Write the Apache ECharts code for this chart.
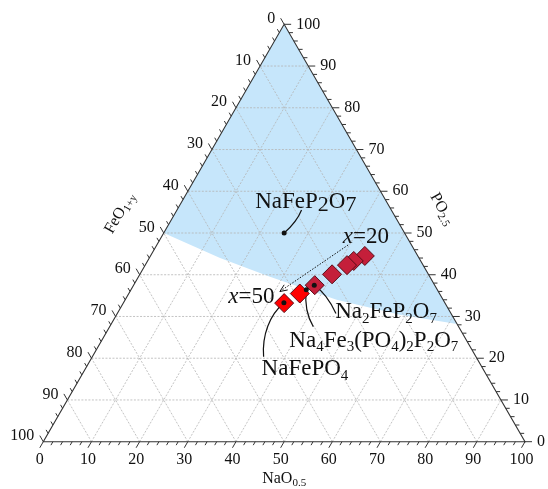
<!DOCTYPE html>
<html><head><meta charset="utf-8">
<script src="https://cdn.jsdelivr.net/npm/echarts@6/dist/echarts.min.js"></script>
<style>html,body{margin:0;padding:0;background:#fff}#c{width:548px;height:489px}</style>
</head><body><div id="c"></div>
<script>
// ---- data (ternary %, NaO0.5 / PO2.5 ; FeO1+y = 100 - Na - P) ----
const tickValues = [0, 10, 20, 30, 40, 50, 60, 70, 80, 90, 100];
const tickLabels = ['0', '10', '20', '30', '40', '50', '60', '70', '80', '90', '100'];
const gridValues = [10, 20, 30, 40, 50, 60, 70, 80, 90];
const sampleNa = [44.5, 42.8, 41.9, 39.9, 37.6, 35.5, 33.4];
const sampleP  = [44.5, 43.3, 42.3, 40.1, 37.5, 35.5, 33.2];
const sampleTone = ['dark', 'dark', 'dark', 'dark', 'dark', 'bright', 'bright'];
const phaseNames = ['NaFeP2O7', 'Na2FeP2O7', 'Na4Fe3(PO4)2P2O7', 'NaFePO4'];
const phaseNa = [25.0, 37.5, 36.4, 33.3];
const phaseP  = [50.0, 37.5, 36.4, 33.3];
const regionNa = [0, 14.7, 27.3, 43.9, 58.8, 71.8, 0];
const regionP  = [50, 44.0, 39.5, 34.0, 30.4, 28.2, 100];
const seriesEnds = ['x=20', 'x=50'];

const SQ = Math.sqrt(3) / 2;
function tern(na, p) { return [na + p / 2, p * SQ]; }
const FONT = '"Liberation Serif","Times New Roman",serif';

const chart = echarts.init(document.getElementById('c'), null, {renderer: 'canvas'});

function seg(a, b, style) {
  return {type: 'line', shape: {x1: a[0], y1: a[1], x2: b[0], y2: b[1]}, style: style};
}
function txt(x, y, text, opts) {
  opts = opts || {};
  return {type: 'text', x: x, y: y, rotation: opts.rotation || 0,
    style: {text: text, x: 0, y: 0, align: opts.align || 'center', verticalAlign: 'middle',
      fill: '#111', fontSize: opts.fontSize || 16, fontFamily: FONT, rich: opts.rich}};
}
const richSmall = {
  m: {fontSize: 16, fontFamily: FONT, fill: '#111', lineHeight: 20},
  s: {fontSize: 11, fontFamily: FONT, fill: '#111', lineHeight: 11, verticalAlign: 'bottom'}
};
const richBig = {
  m: {fontSize: 23, fontFamily: FONT, fill: '#111', lineHeight: 28},
  s: {fontSize: 15, fontFamily: FONT, fill: '#111', lineHeight: 15, verticalAlign: 'bottom'},
  b: {fontSize: 22, fontFamily: FONT, fill: '#111', lineHeight: 24, verticalAlign: 'bottom'},
  i: {fontSize: 23, fontFamily: FONT, fill: '#111', lineHeight: 28, fontStyle: 'italic'}
};
const phaseRich = {
  'NaFeP2O7': '{m|NaFeP}{b|2}{m|O}{b|7}',
  'Na2FeP2O7': '{m|Na}{s|2}{m|FeP}{s|2}{m|O}{s|7}',
  'Na4Fe3(PO4)2P2O7': '{m|Na}{s|4}{m|Fe}{s|3}{m|(PO}{s|4}{m|)}{s|2}{m|P}{s|2}{m|O}{s|7}',
  'NaFePO4': '{m|NaFePO}{s|4}'
};
// leader-line + label placement, in pixel offsets from the phase point
const phaseLayout = [
  {end: [17.4, -23], c1: [12.7, -11.1], text: [21.7, -31], align: 'center'},
  {end: [21.7, 28.3], c1: [13, 9], text: [21, 27], align: 'left'},
  {end: [7, 37], c1: [-2.5, 21], text: [-17, 51], align: 'left'},
  {end: [-20.3, 54], c1: [-14, 12], c2: [-22, 32], text: [-22.3, 66.7], align: 'left'}
];

const option = {
  animation: false,
  grid: {left: 43.3, top: 24.3, width: 481.7, height: 417.4, containLabel: false},
  xAxis: {type: 'value', min: 0, max: 100, show: false},
  yAxis: {type: 'value', min: 0, max: 100 * SQ, show: false},
  series: [
    { // blue stability region
      type: 'custom', z: 1, silent: true, data: [[0, 0]],
      renderItem: function (params, api) {
        const pts = regionNa.map((na, i) => api.coord(tern(na, regionP[i])));
        return {type: 'polygon', shape: {points: pts}, style: {fill: '#c6e6fb', stroke: null}};
      }
    },
    { // grid lines
      type: 'custom', z: 2, silent: true, data: gridValues.map(v => [v, 0]),
      renderItem: function (params, api) {
        const v = api.value(0);
        const c = (na, p) => api.coord(tern(na, p));
        const st = {stroke: '#b4b4b4', lineWidth: 0.8, lineDash: [2, 1.5]};
        return {type: 'group', children: [
          seg(c(0, v), c(100 - v, v), st),
          seg(c(v, 0), c(v, 100 - v), st),
          seg(c(100 - v, 0), c(0, 100 - v), st)
        ]};
      }
    },
    { // frame, ticks, tick labels, axis titles
      type: 'custom', z: 3, silent: true, data: [[0, 0]],
      renderItem: function (params, api) {
        const c = (na, p) => api.coord(tern(na, p));
        const st = {stroke: '#333', lineWidth: 1};
        const A = c(0, 0), B = c(100, 0), T = c(0, 100);
        const ch = [{type: 'polygon', shape: {points: [A, B, T]}, style: {fill: null, stroke: '#333', lineWidth: 1.1}}];
        for (let v = 0; v <= 100; v += 2) {
          const len = v % 10 === 0 ? 7 : 4;
          let p = c(v, 0); ch.push(seg(p, [p[0] - 0.5 * len, p[1] + SQ * len], st));
          p = c(0, 100 - v); ch.push(seg(p, [p[0] - 0.5 * len, p[1] - SQ * len], st));
          p = c(100 - v, v); ch.push(seg(p, [p[0] + len, p[1]], st));
        }
        tickValues.forEach((v, i) => {
          let p = c(v, 0); ch.push(txt(p[0] - 3.5, p[1] + 18.5, tickLabels[i]));
          p = c(0, 100 - v); ch.push(txt(p[0] - 9, p[1] - 5.5, tickLabels[i], {align: 'right'}));
          p = c(100 - v, v); ch.push(txt(p[0] + 12, p[1], tickLabels[i], {align: 'left'}));
        });
        let p = c(50, 0);
        ch.push(txt(p[0], p[1] + 37, '{m|NaO}{s|0.5}', {rich: richSmall}));
        p = c(0, 50);
        ch.push(txt(p[0] - 44, p[1] - 20, '{m|FeO}{s|1+y}', {rich: richSmall, rotation: Math.PI / 3}));
        p = c(50, 50);
        ch.push(txt(p[0] + 37.5, p[1] - 24, '{m|PO}{s|2.5}', {rich: richSmall, rotation: -Math.PI / 3}));
        return {type: 'group', children: ch};
      }
    },
    { // leader lines, phase labels, x arrow
      type: 'custom', z: 4, silent: true, data: [[0, 0]],
      renderItem: function (params, api) {
        const ch = [];
        const line = {stroke: '#111', lineWidth: 1.2, fill: null};
        phaseNames.forEach((name, i) => {
          const d = api.coord(tern(phaseNa[i], phaseP[i]));
          const L = phaseLayout[i];
          const shape = {x1: d[0], y1: d[1], x2: d[0] + L.end[0], y2: d[1] + L.end[1],
            cpx1: d[0] + L.c1[0], cpy1: d[1] + L.c1[1]};
          if (L.c2) { shape.cpx2 = d[0] + L.c2[0]; shape.cpy2 = d[1] + L.c2[1]; }
          ch.push({type: 'bezierCurve', shape: shape, style: line});
          ch.push(txt(d[0] + L.text[0], d[1] + L.text[1], phaseRich[name], {rich: richBig, align: L.align}));
        });
        const first = api.coord(tern(sampleNa[0], sampleP[0]));
        const last = api.coord(tern(sampleNa[sampleNa.length - 1], sampleP[sampleP.length - 1]));
        const S = [first[0] - 16.7, first[1] - 11], E = [last[0] - 4.3, last[1] - 11.6];
        ch.push(seg(S, E, {stroke: '#111', lineWidth: 1, lineDash: [1.5, 1.5]}));
        const dx = E[0] - S[0], dy = E[1] - S[1], n = Math.hypot(dx, dy);
        const ux = dx / n, uy = dy / n, h = 8, a = 0.4;
        const rot = (ang) => [E[0] - h * (ux * Math.cos(ang) - uy * Math.sin(ang)), E[1] - h * (ux * Math.sin(ang) + uy * Math.cos(ang))];
        ch.push({type: 'polyline', shape: {points: [rot(a), E, rot(-a)]}, style: {stroke: '#111', lineWidth: 1, fill: null}});
        ch.push(txt(first[0] + 1, first[1] - 19.3, '{i|x}{m|' + seriesEnds[0].slice(1) + '}', {rich: richBig}));
        ch.push(txt(last[0] - 32.8, last[1] - 6.6, '{i|x}{m|' + seriesEnds[1].slice(1) + '}', {rich: richBig}));
        return {type: 'group', children: ch};
      }
    },
    { // samples
      type: 'scatter', z: 5, symbol: 'diamond', symbolSize: 19, silent: true,
      data: sampleNa.map((na, i) => ({
        value: tern(na, sampleP[i]),
        itemStyle: {color: sampleTone[i] === 'bright' ? '#ff0000' : '#c41f3a', borderColor: '#5a0b16', borderWidth: 1, opacity: 1}
      }))
    },
    { // phase points
      type: 'scatter', z: 6, symbol: 'circle', symbolSize: 5, silent: true,
      itemStyle: {color: '#111', opacity: 1},
      data: phaseNa.map((na, i) => tern(na, phaseP[i]))
    }
  ]
};
chart.setOption(option);
</script></body></html>
